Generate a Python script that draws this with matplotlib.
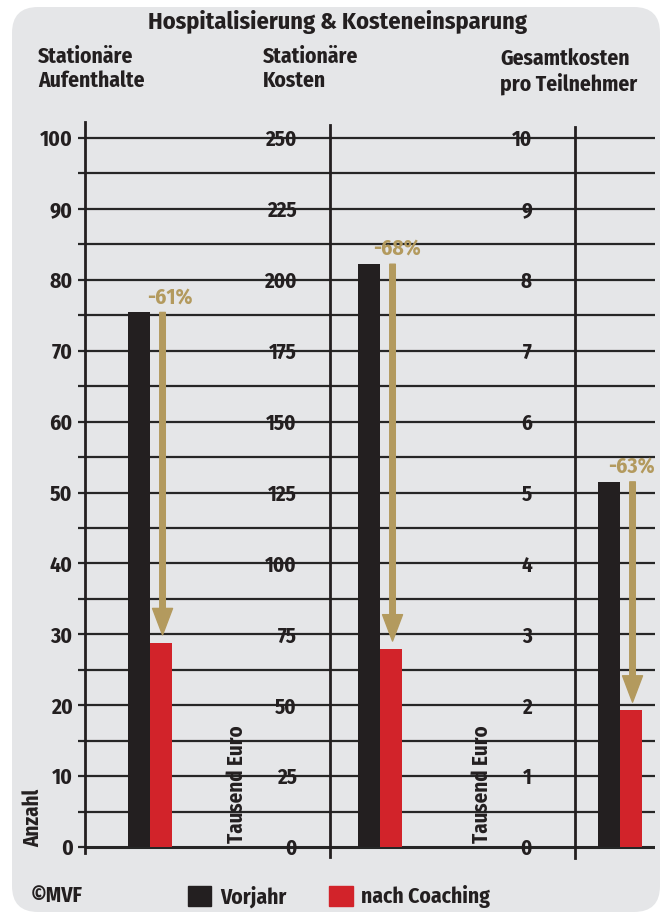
import matplotlib
matplotlib.use('Agg')
import numpy as np
import matplotlib.pyplot as plt
from matplotlib.patches import FancyBboxPatch, Patch

# Daten
titel = 'Hospitalisierung & Kosteneinsparung'
panels = ['Stationäre\nAufenthalte', 'Stationäre\nKosten', 'Gesamtkosten\npro Teilnehmer']
vorjahr = [75.4, 205.5, 5.15]
coaching = [28.8, 69.8, 1.93]
prozent = ['-61%', '-68%', '-63%']
ymax = [100, 250, 10]
ystep = [10, 25, 1]
einheit = ['Anzahl', 'Tausend Euro', 'Tausend Euro']
serien = ['Vorjahr', 'nach Coaching']

SCHWARZ = '#231f20'
ROT = '#d2232a'
GOLD = '#b39a5e'
GRAU = '#e5e6e8'
FONT = ['Fira Sans Condensed', 'DejaVu Sans']

plt.rcParams['font.family'] = FONT
plt.rcParams['font.stretch'] = 'condensed'
plt.rcParams['font.weight'] = 'bold'

W, H = 672, 915
fig = plt.figure(figsize=(W / 100, H / 100), dpi=100)

# Hintergrund mit runden Ecken (Pixelkoordinaten)
bg = FancyBboxPatch((12, 3), 648, 905, boxstyle='round,pad=0,rounding_size=26',
                    transform=None, facecolor=GRAU, edgecolor='none', zorder=-10)
fig.patches.append(bg)


def box(x0, x1, ytop, ybot):
    return [x0 / W, 1 - ybot / H, (x1 - x0) / W, (ybot - ytop) / H]


# Pixelrahmen der Achsen (links, rechts, oben, unten) und Lage der Balkengruppe
px_per_unit = 7.09 * 100 / np.array(ymax)   # gleiche Höhe für alle Skalen
y0_px = 847
rahmen = [(85, 330, 122, 853), (330, 575, 125, 857), (575, 655, 127, 858)]
gruppe_px = [150, 380, 620]
bar_px = 22
label_pad = [4, 24, 31]
label_dx = [0.9, 0.78, 0.5]

# Gitter über die ganze Breite
ax0 = fig.add_axes(box(85, 655, 122, 853))
ax0.set_ylim(-(853 - y0_px) / px_per_unit[0], (y0_px - 122) / px_per_unit[0])
ax0.set_xlim(0, 1)
for v in np.arange(0, ymax[0] + 1, ystep[0] / 2):
    ax0.axhline(v, color='#262626', lw=1.6 if v > 0 else 2.2, zorder=1)
ax0.axis('off')

for i in range(3):
    l, r, t, b = rahmen[i]
    ax = fig.add_axes(box(l, r, t, b))
    ax.patch.set_alpha(0)
    s = px_per_unit[i]
    ax.set_ylim(-(b - y0_px) / s, (y0_px - t) / s)
    # x in Einheiten von Balkenbreiten, Gruppenmitte bei 0
    ax.set_xlim(-(gruppe_px[i] - l) / bar_px, (r - gruppe_px[i]) / bar_px)

    ax.bar(-0.5, vorjahr[i], width=1, color=SCHWARZ, zorder=3, label=serien[0])
    ax.bar(0.5, coaching[i], width=1, color=ROT, zorder=3, label=serien[1])

    # Pfeil von Vorjahr nach Coaching
    gap = 8 / s
    ax.annotate('', xy=(0.57, coaching[i] + gap), xytext=(0.57, vorjahr[i]),
                arrowprops=dict(arrowstyle='simple,head_length=0.95,head_width=0.72,tail_width=0.2',
                                mutation_scale=20, color=GOLD, shrinkA=0, shrinkB=0),
                zorder=4)
    ax.annotate(prozent[i], xy=(label_dx[i], vorjahr[i]), xytext=(0, 3.5),
                textcoords='offset points', ha='center', va='bottom', color=GOLD,
                fontsize=15.5, fontweight='bold')

    for sp in ['top', 'right', 'bottom']:
        ax.spines[sp].set_visible(False)
    ax.spines['left'].set_linewidth(2)
    ax.spines['left'].set_color(SCHWARZ)
    ax.set_xticks([])
    ax.set_yticks(np.arange(0, ymax[i] + 0.01, ystep[i]))
    ax.set_yticklabels([f'{v:g}' for v in np.arange(0, ymax[i] + 0.01, ystep[i])])
    if i == 0:
        ax.set_yticks(np.arange(5, ymax[i], 10), minor=True)
        ax.tick_params(axis='y', which='both', length=5, width=1.6, color='#262626',
                       pad=label_pad[i], labelsize=15.5, labelcolor=SCHWARZ)
    else:
        ax.tick_params(axis='y', length=0, pad=label_pad[i], labelsize=15,
                       labelcolor=SCHWARZ)
    for lab in ax.get_yticklabels():
        lab.set_fontweight('bold')

    # Überschrift der Spalte
    fig.text([38, 263, 500][i] / W, 1 - (46 if i < 2 else 48) / H, panels[i],
             ha='left', va='top', fontsize=15.5, fontweight='bold', color=SCHWARZ,
             linespacing=1.2)

# Einheiten (senkrecht)
for x_px, yb, txt in [(33, 847, einheit[0]), (237, 843, einheit[1]), (482, 843, einheit[2])]:
    fig.text(x_px / W, 1 - yb / H, txt, rotation=90, ha='center', va='bottom',
             fontsize=15, fontweight='bold', color=SCHWARZ)

fig.text(338 / W, 1 - 22 / H, titel, ha='center', va='center', fontsize=17.5,
         fontweight='bold', color=SCHWARZ)
fig.text(31 / W, 1 - 896 / H, '©MVF', ha='left', va='center', fontsize=15.5,
         fontweight='bold', color=SCHWARZ)

handles = [Patch(color=SCHWARZ), Patch(color=ROT)]
leg = fig.legend(handles, serien, loc='center left', bbox_to_anchor=(188 / W, 1 - 897 / H),
                 ncol=2, frameon=False, fontsize=15.5, handlelength=1.08, handleheight=1.08,
                 handletextpad=0.4, columnspacing=2.0, borderpad=0, borderaxespad=0)
for t in leg.get_texts():
    t.set_fontweight('bold')
    t.set_color(SCHWARZ)

fig.savefig('out.png', dpi=100, facecolor='white')
